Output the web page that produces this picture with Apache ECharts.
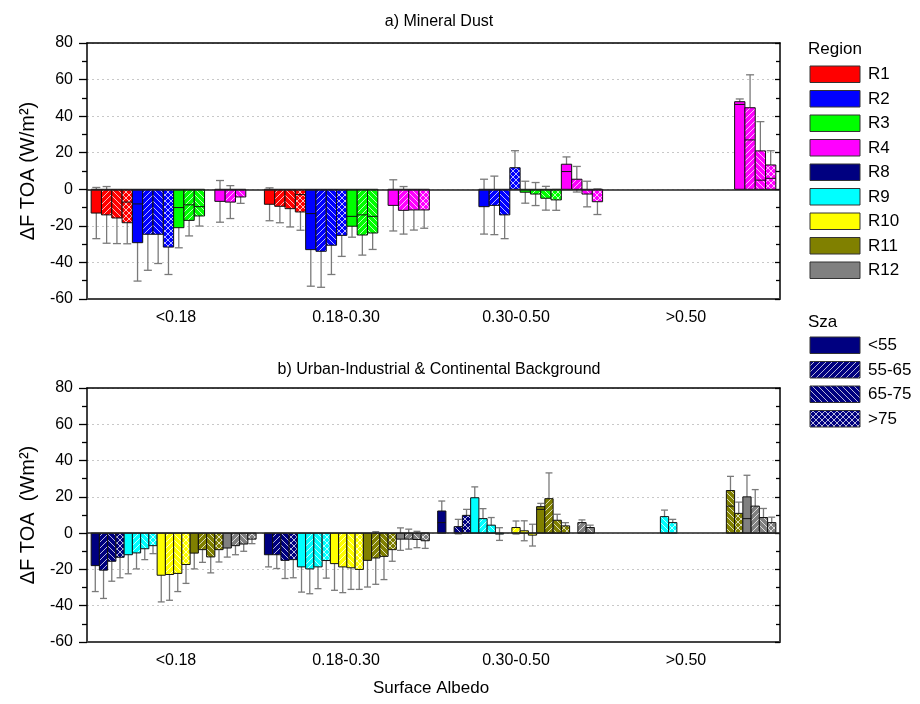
<!DOCTYPE html>
<html><head><meta charset="utf-8">
<script src="https://cdn.jsdelivr.net/npm/echarts@6/dist/echarts.min.js"></script>
<style>html,body{margin:0;padding:0;background:#fff}#c{width:920px;height:704px}</style>
</head><body><div id="c"></div><script>
// ---------------- DATA ----------------
const albedoBins = ['<0.18', '0.18-0.30', '0.30-0.50', '>0.50'];
const szaClasses = ['<55', '55-65', '65-75', '>75'];
const yTicks = [-60, -40, -20, 0, 20, 40, 60, 80];

const dustRegions = ['R1', 'R2', 'R3', 'R4'];
const urbanRegions = ['R8', 'R9', 'R10', 'R11', 'R12'];

// values[albedoBin][szaClass]  (W/m2)
const R1_dF  = [[-13, -14, -15.7, -18.3], [-8.2, -9.3, -10.6, -12.4], [null, null, null, null], [null, null, null, null]];
const R1_err = [[14, 15.5, 14, 11.5], [9, 9, 10, 10], [null, null, null, null], [null, null, null, null]];
const R1_sub = [[null, null, null, -7], [null, null, null, -2.9], [null, null, null, null], [null, null, null, null]];

const R2_dF  = [[-29.2, -24.6, -24.6, -31.6], [-33, -33.9, -30.6, -25.2], [-9.5, -8.8, -14, 11.8], [null, null, null, null]];
const R2_err = [[21, 19.7, 16, 15], [20, 19.7, 16, 11.5], [15, 16, 13, 9.3], [null, null, null, null]];
const R2_sub = [[-8, null, null, null], [-13.3, null, null, null], [null, null, null, null], [null, null, null, null]];

const R3_dF  = [[-21, -17, -14.6, null], [-20.2, -25, -23.9, null], [-1.6, -2.6, -4.9, -5.8], [null, null, null, null]];
const R3_err = [[11, 8.5, 5.5, null], [6, 11, 9, null], [6, 6.3, 6.5, 5.7], [null, null, null, null]];
const R3_sub = [[-10, -8.5, -9.5, null], [-14.8, -14, -14.8, null], [null, null, null, null], [null, null, null, null]];

const R4_dF  = [[-6.6, -7, -4.2, null], [-8.8, -11.5, -11.3, -11.3], [13.7, 5.5, -2.6, -6.8], [47.9, 44.6, 21, 13.3]];
const R4_err = [[11.4, 9, 3.5, null], [14, 13, 11, 10], [4, 7, 7, 7], [1.5, 18, 16, 7.8]];
const R4_sub = [[null, null, null, null], [null, null, null, null], [9.7, null, null, null], [46.4, 27, 5, 6]];

const R8_dF  = [[-17.9, -20.4, -15.5, -13.3], [-11.9, -11.9, -15, -14.6], [12.2, null, 3.6, 9.8], [null, null, null, null]];
const R8_err = [[14.3, 15.6, 11, 11.3], [6.7, 7.6, 10, 10], [5.5, null, 4, 3.3], [null, null, null, null]];
const R8_sub = [[null, null, null, null], [null, null, null, null], [5.8, null, null, null], [null, null, null, null]];

const R9_dF  = [[-11.9, -10.9, -8.6, -6.9], [-18.6, -19.7, -18.6, -15.1], [19.5, 8, 4.4, -0.5], [null, null, 9.1, 5.8]];
const R9_err = [[10.5, 8.8, 6, 4.4], [13.9, 13.7, 12, 9.7], [6, 5.5, 4.2, 3.5], [null, null, 3.6, 1.8]];
const R9_sub = [[null, null, null, null], [null, null, null, null], [null, null, null, null], [null, null, null, null]];

const R10_dF  = [[-23.2, -22.8, -22.2, -17.3], [-16.8, -18.6, -19.1, -20], [null, 3.1, 1.3, -1.1], [null, null, null, null]];
const R10_err = [[14.7, 14.2, 10, 10.4], [14.7, 14.2, 11.9, 11], [null, 3.6, 5.5, 6], [null, null, null, null]];
const R10_sub = [[null, null, null, null], [null, null, null, null], [null, null, null, null], [null, null, null, null]];

const R11_dF  = [[-11, -9.1, -13.1, -9.1], [-15, -13.7, -12.8, -9.1], [14.6, 19, 7.1, 4], [null, null, 23.5, 10.9]];
const R11_err = [[8.7, 7, 8.8, 6.8], [14.7, 14.5, 12.8, 6.4], [1.8, 14.2, 3.3, 1.8], [null, null, 7.8, 6.2]];
const R11_sub = [[null, null, null, null], [null, null, null, null], [13.1, null, null, null], [null, null, 14.9, null]];

const R12_dF  = [[-8.2, -6.9, -6, -3.3], [-3.3, -3.3, -3.5, -4.2], [null, 5.8, 3.1, null], [20, 14.9, 8.6, 5.8]];
const R12_err = [[5, 5, 4, 2.5], [6.2, 5.5, 4.5, 4.2], [null, 1.5, 1.3, null], [11.9, 9.1, 5, 3]];
const R12_sub = [[null, null, null, null], [null, null, null, null], [null, null, null, null], [8, null, null, null]];

// ---------------- STYLE ----------------
const FONT = "'Liberation Sans', Arial, sans-serif";
const regionColors = {
  R1: '#ff0000', R2: '#0000ff', R3: '#00ff00', R4: '#ff00ff',
  R8: '#000080', R9: '#00ffff', R10: '#ffff00', R11: '#808000', R12: '#808080'
};
const GROUP_FILL = 0.952;

const patCache = {};
function getPattern(color, type) {
  const key = color + '_' + type;
  if (patCache[key]) return patCache[key];
  if (type === 0) { patCache[key] = color; return color; }
  const s = 6;
  const c = document.createElement('canvas');
  c.width = s; c.height = s;
  const ctx = c.getContext('2d');
  ctx.fillStyle = color; ctx.fillRect(0, 0, s, s);
  ctx.strokeStyle = 'rgba(255,255,255,0.72)';
  ctx.lineWidth = 1;
  ctx.beginPath();
  if (type === 1 || type === 3) {
    ctx.moveTo(0, s); ctx.lineTo(s, 0);
    ctx.moveTo(-s / 2, s / 2); ctx.lineTo(s / 2, -s / 2);
    ctx.moveTo(s / 2, s * 1.5); ctx.lineTo(s * 1.5, s / 2);
  }
  if (type === 2 || type === 3) {
    ctx.moveTo(0, 0); ctx.lineTo(s, s);
    ctx.moveTo(s / 2, -s / 2); ctx.lineTo(s * 1.5, s / 2);
    ctx.moveTo(-s / 2, s / 2); ctx.lineTo(s / 2, s * 1.5);
  }
  ctx.stroke();
  const p = { image: c, repeat: 'repeat' };
  patCache[key] = p;
  return p;
}

function buildItems(regions, vals, errs, subs) {
  const items = [];
  regions.forEach((r, ri) => {
    for (let g = 0; g < albedoBins.length; g++) {
      for (let s = 0; s < szaClasses.length; s++) {
        const v = vals[ri][g][s];
        if (v == null) continue;
        const e = errs[ri][g][s];
        const sub = subs[ri][g][s];
        items.push([g, v, e == null ? 0 : e, ri * 4 + s, ri, s, sub == null ? NaN : sub]);
      }
    }
  });
  return items;
}

const dustItems = buildItems(dustRegions, [R1_dF, R2_dF, R3_dF, R4_dF], [R1_err, R2_err, R3_err, R4_err], [R1_sub, R2_sub, R3_sub, R4_sub]);
const urbanItems = buildItems(urbanRegions, [R8_dF, R9_dF, R10_dF, R11_dF, R12_dF], [R8_err, R9_err, R10_err, R11_err, R12_err], [R8_sub, R9_sub, R10_sub, R11_sub, R12_sub]);

function slotGeom(api, g, slot, nSlots) {
  const base = api.coord([g, 0]);
  const band = api.size([1, 0])[0];
  const content = band * GROUP_FILL;
  const w = content / nSlots;
  return { x0: base[0] - content / 2 + slot * w, w: w, y0: base[1] };
}

function barRenderer(nSlots, regions) {
  return function (params, api) {
    const g = api.value(0), v = api.value(1), slot = api.value(3), reg = api.value(4), sza = api.value(5), sub = api.value(6);
    const G = slotGeom(api, g, slot, nSlots);
    const yv = api.coord([g, v])[1];
    const children = [{
      type: 'rect',
      shape: { x: G.x0, y: Math.min(G.y0, yv), width: G.w, height: Math.abs(yv - G.y0) },
      style: { fill: getPattern(regionColors[regions[reg]], sza), stroke: '#111', lineWidth: 1 }
    }];
    if (sub != null && !isNaN(sub)) {
      const yo = api.coord([g, sub])[1];
      children.push({ type: 'line', shape: { x1: G.x0, y1: yo, x2: G.x0 + G.w, y2: yo }, style: { stroke: '#111', lineWidth: 1 } });
    }
    return { type: 'group', children: children };
  };
}

function errRenderer(nSlots) {
  return function (params, api) {
    const g = api.value(0), v = api.value(1), e = api.value(2), slot = api.value(3);
    if (!e) return null;
    const G = slotGeom(api, g, slot, nSlots);
    const xc = G.x0 + G.w / 2;
    const yl = api.coord([g, v - e])[1];
    const yh = api.coord([g, v + e])[1];
    const hc = Math.min(4, G.w * 0.42);
    const st = { stroke: '#7a7a7a', lineWidth: 1.3 };
    return {
      type: 'group', children: [
        { type: 'line', shape: { x1: xc, y1: yl, x2: xc, y2: yh }, style: st },
        { type: 'line', shape: { x1: xc - hc, y1: yl, x2: xc + hc, y2: yl }, style: st },
        { type: 'line', shape: { x1: xc - hc, y1: yh, x2: xc + hc, y2: yh }, style: st }
      ]
    };
  };
}

// ---------------- CHART ----------------
const chart = echarts.init(document.getElementById('c'), null, { renderer: 'canvas' });

const panels = [
  { top: 43, height: 256, name: 'ΔF TOA (W/m²)' },
  { top: 388, height: 254, name: 'ΔF TOA  (Wm²)' }
];

const grids = [], xAxes = [], yAxes = [];
panels.forEach((p, i) => {
  grids.push({ left: 87, right: 140, top: p.top, height: p.height });
  grids.push({ left: 91, width: 680, top: p.top, height: p.height });
  const gi = i * 2;
  xAxes.push({
    type: 'category', gridIndex: gi, data: albedoBins, position: 'bottom',
    axisLine: { show: true, onZero: false, lineStyle: { color: '#444', width: 2 } },
    axisTick: { show: false }, axisLabel: { show: false }, splitLine: { show: false }
  });
  xAxes.push({
    type: 'category', gridIndex: gi, data: albedoBins, position: 'top',
    axisLine: { show: true, onZero: false, lineStyle: { color: '#000', width: 1.5 } },
    axisTick: { show: false }, axisLabel: { show: false }, splitLine: { show: false }
  });
  xAxes.push({
    type: 'category', gridIndex: gi + 1, data: albedoBins, position: 'bottom',
    axisLine: { show: false }, axisTick: { show: false },
    axisLabel: { show: true, margin: 11, fontSize: 16, fontFamily: FONT, color: '#000' },
    name: i === 1 ? 'Surface Albedo' : '', nameLocation: 'middle', nameGap: 38,
    nameTextStyle: { fontSize: 17, fontFamily: FONT, color: '#000' }
  });
  yAxes.push({
    type: 'value', gridIndex: gi, min: yTicks[0], max: yTicks[yTicks.length - 1], interval: 20, position: 'left',
    name: p.name, nameLocation: 'middle', nameGap: 40,
    nameTextStyle: { fontSize: 20, fontFamily: FONT, color: '#000' },
    axisLine: { show: true, onZero: false, lineStyle: { color: '#000', width: 1.5 } },
    axisTick: { show: true, inside: false, length: 8, lineStyle: { color: '#000', width: 1.3 } },
    minorTick: { show: true, splitNumber: 2, length: 5, lineStyle: { color: '#000', width: 1.3 } },
    axisLabel: { margin: 14, fontSize: 16, fontFamily: FONT, color: '#000' },
    splitLine: { show: true, lineStyle: { color: '#c8c8c8', type: [2, 3], width: 1 } }
  });
  yAxes.push({
    type: 'value', gridIndex: gi, min: yTicks[0], max: yTicks[yTicks.length - 1], interval: 20, position: 'right',
    axisLine: { show: true, onZero: false, lineStyle: { color: '#000', width: 1.5 } },
    axisTick: { show: true, inside: true, length: 5, lineStyle: { color: '#000', width: 1.3 } },
    minorTick: { show: true, splitNumber: 2, length: 4, lineStyle: { color: '#000', width: 1.3 } },
    axisLabel: { show: false }, splitLine: { show: false }
  });
  yAxes.push({ type: 'value', gridIndex: gi + 1, show: false, min: 0, max: 1 });
});

const zeroLine = {
  silent: true, symbol: ['none', 'none'], label: { show: false },
  lineStyle: { color: '#222', width: 1.5, type: 'solid' },
  data: [{ yAxis: 0 }]
};

const series = [
  { type: 'custom', name: 'dustErr', xAxisIndex: 0, yAxisIndex: 0, z: 2, renderItem: errRenderer(16), data: dustItems, encode: { x: 0, y: 1 } },
  { type: 'custom', name: 'dustBars', xAxisIndex: 0, yAxisIndex: 0, z: 3, renderItem: barRenderer(16, dustRegions), data: dustItems, encode: { x: 0, y: 1 }, markLine: zeroLine },
  { type: 'custom', name: 'urbanErr', xAxisIndex: 3, yAxisIndex: 3, z: 2, renderItem: errRenderer(20), data: urbanItems, encode: { x: 0, y: 1 } },
  { type: 'custom', name: 'urbanBars', xAxisIndex: 3, yAxisIndex: 3, z: 3, renderItem: barRenderer(20, urbanRegions), data: urbanItems, encode: { x: 0, y: 1 }, markLine: zeroLine }
];

const legendRegions = dustRegions.concat(urbanRegions);
const graphic = [];
graphic.push({ type: 'text', x: 808, y: 49, style: { text: 'Region', fontSize: 17, fontFamily: FONT, fill: '#000', verticalAlign: 'middle', align: 'left' } });
legendRegions.forEach((r, i) => {
  const y = 66 + i * 24.5;
  graphic.push({ type: 'rect', shape: { x: 810, y: y, width: 50, height: 16.5 }, style: { fill: regionColors[r], stroke: '#333', lineWidth: 1 } });
  graphic.push({ type: 'text', x: 868, y: y + 8.5, style: { text: r, fontSize: 17, fontFamily: FONT, fill: '#000', verticalAlign: 'middle', align: 'left' } });
});
graphic.push({ type: 'text', x: 808, y: 322, style: { text: 'Sza', fontSize: 17, fontFamily: FONT, fill: '#000', verticalAlign: 'middle', align: 'left' } });
szaClasses.forEach((s, i) => {
  const y = 337 + i * 24.5;
  graphic.push({ type: 'rect', shape: { x: 810, y: y, width: 50, height: 16.5 }, style: { fill: getPattern(regionColors.R8, i), stroke: '#333', lineWidth: 1 } });
  graphic.push({ type: 'text', x: 868, y: y + 8.5, style: { text: s, fontSize: 17, fontFamily: FONT, fill: '#000', verticalAlign: 'middle', align: 'left' } });
});

chart.setOption({
  animation: false,
  backgroundColor: '#fff',
  title: [
    { text: 'a) Mineral Dust', left: 434, top: 9, textAlign: 'center', textStyle: { fontSize: 16, fontWeight: 'normal', fontFamily: FONT, color: '#000' } },
    { text: 'b) Urban-Industrial & Continental Background', left: 434, top: 357, textAlign: 'center', textStyle: { fontSize: 16, fontWeight: 'normal', fontFamily: FONT, color: '#000' } }
  ],
  grid: grids,
  xAxis: xAxes,
  yAxis: yAxes,
  series: series,
  graphic: graphic
});
</script></body></html>
